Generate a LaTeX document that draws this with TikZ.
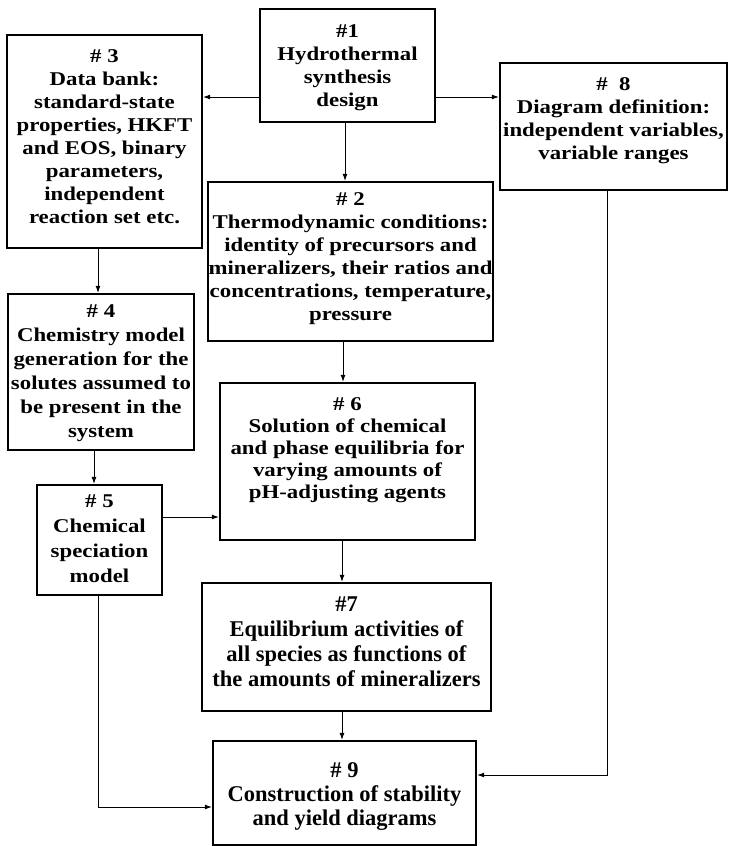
\documentclass[tikz,border=0pt]{standalone}
\usepackage{fontspec}
\newfontfamily\wfont{Liberation Serif}[FakeStretch=1.17]
\newfontfamily\nfont{Liberation Serif}
\usetikzlibrary{arrows.meta}
\newcommand{\boxtext}[5]{\parbox[c][#2][t]{#1}{\vspace*{#3}#4\centering #5\par}}
\newcommand{\wf}[1]{\wfont\fontsize{19.5}{#1}\selectfont\bfseries}
\newcommand{\nf}[1]{\nfont\fontsize{22.5}{#1}\selectfont\bfseries}
\begin{document}
\begin{tikzpicture}[x=1pt,y=-1pt,
  box/.style={draw, line width=2.4pt, inner sep=0pt},
  arr/.style={line width=0.8pt, -{Latex[length=7pt,width=5pt]}}]
\useasboundingbox[fill=white] (0,0) rectangle (729,846);
\node[box] (n1) at (347.5,65.5) {\boxtext{175pt}{113pt}{16pt}{\wf{23pt}}{\#1\\Hydrothermal\\synthesis\\design}};
\node[box] (n3) at (104.5,141.5) {\boxtext{195pt}{213pt}{15pt}{\wf{23pt}}{\# 3\\Data bank:\\standard-state\\properties, HKFT\\and EOS, binary\\parameters,\\independent\\reaction set etc.}};
\node[box] (n8) at (613.5,126.5) {\boxtext{227pt}{127pt}{15pt}{\wf{23pt}}{\#\ \ 8\\Diagram definition:\\independent variables,\\variable ranges}};
\node[box] (n2) at (350.5,261.5) {\boxtext{285pt}{159pt}{11pt}{\wf{23pt}}{\# 2\\Thermodynamic conditions:\\identity of precursors and\\\makebox[0pt]{mineralizers, their ratios and}\\concentrations, temperature,\\pressure}};
\node[box] (n4) at (101,372) {\boxtext{186pt}{156pt}{11pt}{\wf{24pt}}{\# 4\\Chemistry model\\generation for the\\solutes assumed to\\be present in the\\system}};
\node[box] (n5) at (99.5,540) {\boxtext{125pt}{110pt}{10pt}{\wf{25pt}}{\# 5\\Chemical\\speciation\\model}};
\node[box] (n6) at (347.5,461.5) {\boxtext{255pt}{157pt}{15pt}{\wf{22pt}}{\# 6\\Solution of chemical\\and phase equilibria for\\varying amounts of\\pH-adjusting agents}};
\node[box] (n7) at (346.5,647) {\boxtext{289pt}{128pt}{14pt}{\nf{25pt}}{\#7\\Equilibrium activities of\\all species as functions of\\the amounts of mineralizers}};
\node[box] (n9) at (344.5,793) {\boxtext{263pt}{104pt}{22pt}{\nf{24pt}}{\# 9\\Construction of stability\\and yield diagrams}};
\draw[arr] (n1.west |- 0,97) -- (n3.east |- 0,97);
\draw[arr] (n1.east |- 0,97) -- (n8.west |- 0,97);
\draw[arr] (n1.south -| 345,0) -- (n2.north -| 345,0);
\draw[arr] (n3.south -| 98,0) -- (n4.north -| 98,0);
\draw[arr] (n4.south -| 94,0) -- (n5.north -| 94,0);
\draw[arr] (n2.south -| 343,0) -- (n6.north -| 343,0);
\draw[arr] (n5.east |- 0,517) -- (n6.west |- 0,517);
\draw[arr] (n6.south -| 342,0) -- (n7.north -| 342,0);
\draw[arr] (n7.south -| 342,0) -- (n9.north -| 342,0);
\draw[arr] (n8.south -| 607,0) |- (n9.east |- 0,775);
\draw[arr] (n5.south -| 98,0) |- (n9.west |- 0,807);
\end{tikzpicture}
\end{document}
